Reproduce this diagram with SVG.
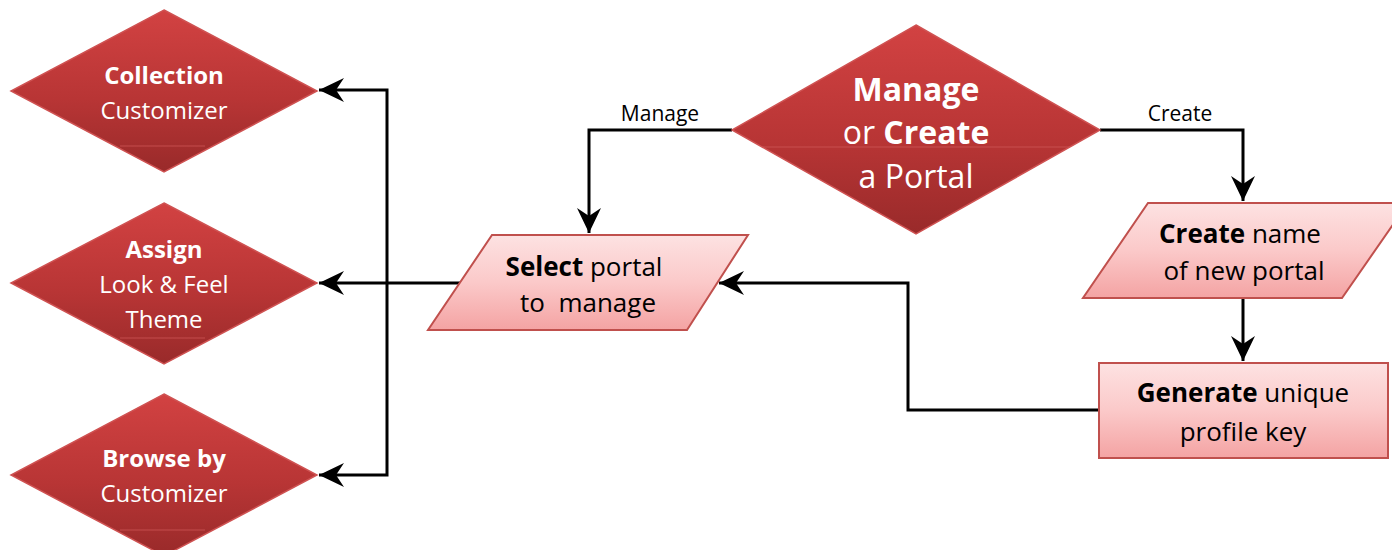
<svg xmlns="http://www.w3.org/2000/svg" width="1392" height="550" viewBox="0 0 1392 550">
  <defs>
    <linearGradient id="redFill" x1="0" y1="0" x2="0" y2="1">
      <stop offset="0" stop-color="#d24242"/>
      <stop offset="0.55" stop-color="#b83535"/>
      <stop offset="1" stop-color="#992a2a"/>
    </linearGradient>
    <linearGradient id="pinkFill" x1="0" y1="0" x2="0" y2="1">
      <stop offset="0" stop-color="#fde2e2"/>
      <stop offset="0.5" stop-color="#fbc9c9"/>
      <stop offset="1" stop-color="#f4a3a3"/>
    </linearGradient>
    <marker id="arrow" markerUnits="userSpaceOnUse" markerWidth="30" markerHeight="30" viewBox="-27 -14 30 28" refX="0" refY="0" orient="auto">
      <path d="M0,0 L-25,-12 L-17,0 L-25,12 Z" fill="#000"/>
    </marker>
    <style>
      .decision { fill: url(#redFill); stroke: #cf5252; stroke-width: 1.5; }
      .gloss { stroke: #d25a5a; stroke-width: 1; opacity: 0.7; }
      .io { fill: url(#pinkFill); stroke: #c0504d; stroke-width: 2; }
      .wt { fill: #fff; font-family: "Open Sans", "Liberation Sans", sans-serif; text-anchor: middle; dominant-baseline: central; }
      .bk { fill: #000; font-family: "Open Sans", "Liberation Sans", sans-serif; text-anchor: middle; dominant-baseline: central; }
      .b { font-weight: bold; }
      .s22 { font-size: 24px; }
      .s24 { font-size: 26px; }
      .s30 { font-size: 32px; }
      .lbl { font-size: 21px; }
      .wire { fill: none; stroke: #000; stroke-width: 3; }
    </style>
  </defs>

  <rect width="1392" height="550" fill="#fff"/>

  <!-- connectors -->
  <g id="connectors">
    <path class="wire" d="M732,130 H589 V233" marker-end="url(#arrow)"/>
    <path class="wire" d="M1100,130 H1243 V201" marker-end="url(#arrow)"/>
    <path class="wire" d="M1243,298 V361" marker-end="url(#arrow)"/>
    <path class="wire" d="M1099,410 H908 V283 H719" marker-end="url(#arrow)"/>
    <path class="wire" d="M460,283 H319" marker-end="url(#arrow)"/>
    <path class="wire" d="M387,283 V90 H319" marker-end="url(#arrow)"/>
    <path class="wire" d="M387,283 V475 H319" marker-end="url(#arrow)"/>
    <text class="bk lbl" x="660" y="113">Manage</text>
    <text class="bk lbl" x="1180" y="113">Create</text>
  </g>

  <!-- main decision -->
  <g id="manage-or-create">
    <polygon class="decision" points="916,25 1100,130 916,234 732,130"/>
    <line class="gloss" x1="762" y1="147" x2="1070" y2="147"/>
    <text class="wt s30 b" x="916" y="88">Manage</text>
    <text class="wt s30" x="916" y="131">or <tspan class="b">Create</tspan></text>
    <text class="wt s30" x="916" y="175">a Portal</text>
  </g>

  <g id="collection-customizer">
    <polygon class="decision" points="164,10 317,91 164,172 11,91"/>
    <line class="gloss" x1="120" y1="146" x2="205" y2="146"/>
    <text class="wt s22 b" x="164" y="74">Collection</text>
    <text class="wt s22" x="164" y="109">Customizer</text>
  </g>

  <g id="assign-theme">
    <polygon class="decision" points="164,203 317,283 164,364 11,283"/>
    <line class="gloss" x1="120" y1="338" x2="205" y2="338"/>
    <text class="wt s22 b" x="164" y="248">Assign</text>
    <text class="wt s22" x="164" y="283">Look &amp; Feel</text>
    <text class="wt s22" x="164" y="318">Theme</text>
  </g>

  <g id="browse-by-customizer">
    <polygon class="decision" points="164,394 317,475 164,556 11,475"/>
    <line class="gloss" x1="120" y1="530" x2="205" y2="530"/>
    <text class="wt s22 b" x="164" y="457">Browse by</text>
    <text class="wt s22" x="164" y="492">Customizer</text>
  </g>

  <g id="select-portal">
    <polygon class="io" points="492,235 748,235 687,330 428,330"/>
    <text class="bk s24" x="584" y="266"><tspan class="b">Select</tspan> portal</text>
    <text class="bk s24" x="588" y="302" xml:space="preserve">to  manage</text>
  </g>

  <g id="create-name">
    <polygon class="io" points="1148,203 1408,203 1342,298 1083,298"/>
    <text class="bk s24" x="1240" y="233"><tspan class="b">Create</tspan> name</text>
    <text class="bk s24" x="1244" y="270">of new portal</text>
  </g>

  <g id="generate-key">
    <rect class="io" x="1099" y="363" width="289" height="95"/>
    <text class="bk s24" x="1243" y="392"><tspan class="b">Generate</tspan> unique</text>
    <text class="bk s24" x="1243" y="431">profile key</text>
  </g>
</svg>
